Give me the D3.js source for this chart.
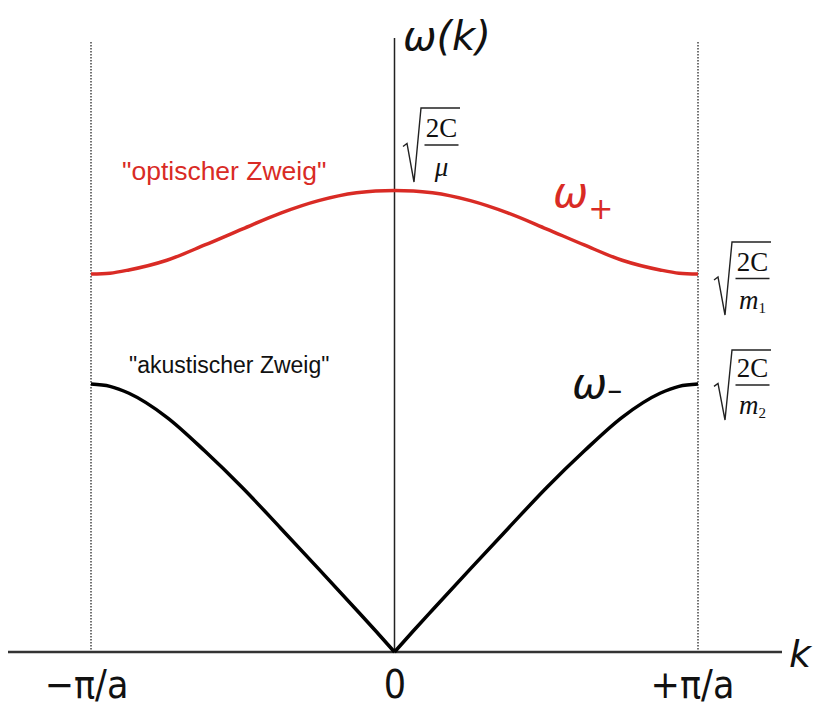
<!DOCTYPE html>
<html>
<head>
<meta charset="utf-8">
<script src="https://cdn.jsdelivr.net/npm/d3@7"></script>
<style>
  html, body { margin: 0; padding: 0; background: #fff; }
  svg { display: block; }
</style>
</head>
<body>
<svg id="chart" width="821" height="715"></svg>
<script>
// Wave vector in units of pi/a
const kValues = [-1, -0.9375, -0.875, -0.75, -0.625, -0.5, -0.375, -0.25, -0.125, -0.0625, 0,
                 0.0625, 0.125, 0.25, 0.375, 0.5, 0.625, 0.75, 0.875, 0.9375, 1];
// Optical branch omega_+ (in units of sqrt(2C/mu))
const opticalOmega = [0.818, 0.820, 0.827, 0.848, 0.881, 0.916, 0.950, 0.977, 0.994, 0.998, 0.999,
                      0.998, 0.994, 0.977, 0.950, 0.916, 0.881, 0.848, 0.827, 0.820, 0.818];
// Acoustic branch omega_- (same units)
const acousticOmega = [0.580, 0.575, 0.560, 0.508, 0.435, 0.355, 0.268, 0.180, 0.091, 0.046, 0,
                       0.046, 0.091, 0.180, 0.268, 0.355, 0.435, 0.508, 0.560, 0.575, 0.580];
// Tick positions on k axis and their labels
const kTicks = [-1, 0, 1];
const kTickLabels = ["\u2212\u03C0/a", "0", "+\u03C0/a"];

const RED = "#d92b25";
const svg = d3.select("#chart");

const x = d3.scaleLinear().domain([-1, 1]).range([91, 698]);
const y = d3.scaleLinear().domain([0, 1]).range([652, 190]);

// Brillouin zone boundaries (dotted)
svg.selectAll("line.zone").data([-1, 1]).join("line")
  .attr("class", "zone")
  .attr("x1", d => x(d)).attr("x2", d => x(d))
  .attr("y1", 42).attr("y2", y(0))
  .attr("stroke", "#444").attr("stroke-width", 1.5)
  .attr("stroke-dasharray", "1.5,1.5");

// omega axis
svg.append("line")
  .attr("x1", x(0)).attr("x2", x(0))
  .attr("y1", 38).attr("y2", y(0))
  .attr("stroke", "#222").attr("stroke-width", 1.5);

// k axis line
svg.append("line")
  .attr("x1", 8).attr("x2", 782)
  .attr("y1", y(0)).attr("y2", y(0))
  .attr("stroke", "#333").attr("stroke-width", 2.5);

// k axis tick labels
const axis = d3.axisBottom(x)
  .tickValues(kTicks)
  .tickSize(0)
  .tickPadding(18)
  .tickFormat((d, i) => kTickLabels[i]);
const gAxis = svg.append("g")
  .attr("transform", `translate(0,${y(0)})`)
  .call(axis);
gAxis.select(".domain").remove();
gAxis.selectAll("text")
  .attr("font-family", "'DejaVu Sans Condensed', 'DejaVu Sans', sans-serif")
  .attr("font-size", 39)
  .attr("fill", "#111")
  .attr("dy", "0.71em");
gAxis.selectAll(".tick").filter(d => d === -1).select("text").attr("dx", -5);
gAxis.selectAll(".tick").filter(d => d === 1).select("text").attr("dx", -6);

// Dispersion branches
const optical = kValues.map((k, i) => ({ k, w: opticalOmega[i] }));
const acoustic = kValues.map((k, i) => ({ k, w: acousticOmega[i] }));

const line = d3.line()
  .x(d => x(d.k)).y(d => y(d.w))
  .curve(d3.curveMonotoneX);

svg.append("path")
  .datum(optical)
  .attr("d", line)
  .attr("fill", "none")
  .attr("stroke", RED)
  .attr("stroke-width", 3.5);

// acoustic branch: two halves meeting in a cusp at k = 0
[acoustic.filter(d => d.k <= 0), acoustic.filter(d => d.k >= 0)].forEach(half => {
  svg.append("path")
    .datum(half)
    .attr("d", line)
    .attr("fill", "none")
    .attr("stroke", "#000")
    .attr("stroke-width", 3.5)
    .attr("stroke-linejoin", "round");
});

// Axis titles
svg.append("text")
  .attr("x", 403).attr("y", 50)
  .attr("font-family", "'DejaVu Sans', sans-serif")
  .attr("font-style", "italic")
  .attr("font-size", 40)
  .attr("fill", "#111")
  .text("\u03C9(k)");

svg.append("text")
  .attr("x", 789).attr("y", 667)
  .attr("font-family", "'DejaVu Sans', sans-serif")
  .attr("font-style", "italic")
  .attr("font-size", 38)
  .attr("fill", "#111")
  .text("k");

// Branch names
svg.append("text")
  .attr("x", 122).attr("y", 180)
  .attr("font-family", "'Liberation Sans', Arial, sans-serif")
  .attr("font-size", 26.5)
  .attr("fill", RED)
  .text("\"optischer Zweig\"");

svg.append("text")
  .attr("x", 129).attr("y", 373)
  .attr("font-family", "'Liberation Sans', Arial, sans-serif")
  .attr("font-size", 23)
  .attr("fill", "#111")
  .text("\"akustischer Zweig\"");

// omega_+ and omega_- labels
function omegaLabel(xPos, yPos, sub, color, subDy) {
  const t = svg.append("text")
    .attr("x", xPos).attr("y", yPos)
    .attr("font-family", "'DejaVu Sans', sans-serif")
    .attr("fill", color);
  t.append("tspan")
    .attr("font-style", "italic")
    .attr("font-size", 42)
    .text("\u03C9");
  t.append("tspan")
    .attr("font-size", 30)
    .attr("dy", subDy)
    .text(sub);
}
omegaLabel(553, 207, "+", RED, 12);
omegaLabel(572, 398, "\u2013", "#111", 2);

// Radical expressions sqrt(2C / denom)
function radical(x0, top, bottom, denom, sub) {
  const w = 39;
  const g = svg.append("g");
  const mid = top + (bottom - top) * 0.52;
  g.append("path")
    .attr("d", `M${x0},${mid} L${x0 + 4},${mid - 3} L${x0 + 11},${bottom} L${x0 + 18},${top} L${x0 + 18 + w},${top}`)
    .attr("fill", "none")
    .attr("stroke", "#222")
    .attr("stroke-width", 1.4)
    .attr("stroke-linejoin", "miter");
  const cx = x0 + 18 + w / 2 + 1;
  const fracY = top + (bottom - top) * 0.5;
  g.append("line")
    .attr("x1", cx - 17).attr("x2", cx + 17)
    .attr("y1", fracY).attr("y2", fracY)
    .attr("stroke", "#222").attr("stroke-width", 1.3);
  g.append("text")
    .attr("x", cx).attr("y", fracY - 8)
    .attr("text-anchor", "middle")
    .attr("font-family", "'Liberation Serif', 'Times New Roman', serif")
    .attr("font-size", 27)
    .attr("fill", "#111")
    .text("2C");
  const dt = g.append("text")
    .attr("x", cx).attr("y", bottom - 6)
    .attr("text-anchor", "middle")
    .attr("font-family", "'Liberation Serif', 'Times New Roman', serif")
    .attr("fill", "#111");
  dt.append("tspan").attr("font-style", "italic").attr("font-size", 27).text(denom);
  if (sub) dt.append("tspan").attr("font-size", 15).attr("dy", 4).text(sub);
}
radical(403, 108, 182, "\u03BC", null);
radical(714, 242, 315, "m", "1");
radical(714, 350, 420, "m", "2");
</script>
</body>
</html>
